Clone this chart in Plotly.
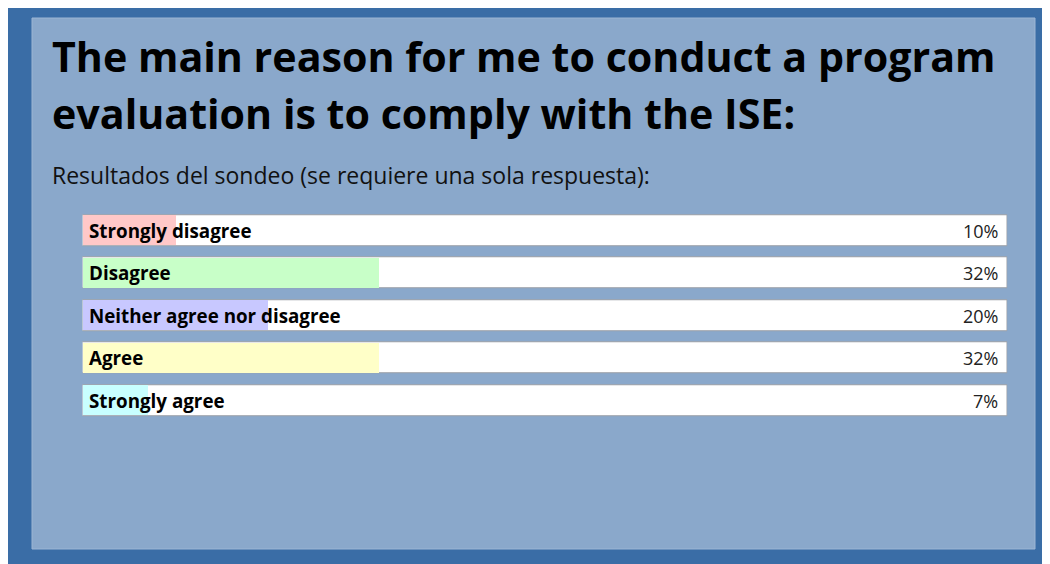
import plotly.graph_objects as go

categories = ["Strongly disagree", "Disagree", "Neither agree nor disagree", "Agree", "Strongly agree"]
values = [10, 32, 20, 32, 7]
pct_labels = ["10%", "32%", "20%", "32%", "7%"]
fill_colors = ["#ffc8c8", "#c8ffc8", "#c8c8ff", "#ffffc8", "#c8ffff"]
title_lines = ["The main reason for me to conduct a program", "evaluation is to comply with the ISE:"]
subtitle = "Resultados del sondeo (se requiere una sola respuesta):"

W, H = 1050, 564
OFF = 8  # page body margin
FONT = "Open Sans"


def px_x(p):
    return (p - OFF) / W


def px_y(p):
    return 1 - (p - OFF) / H


fig = go.Figure()
fig.add_trace(go.Bar(
    y=categories, x=[100] * len(categories), orientation="h",
    marker=dict(color="white", line=dict(color="#9a9ea6", width=1)),
    width=0.73, hoverinfo="skip", showlegend=False,
))
fig.add_trace(go.Bar(
    y=categories, x=values, orientation="h",
    marker=dict(color=fill_colors, line=dict(width=0)),
    width=0.71, showlegend=False,
))

annotations = []
for c, p in zip(categories, pct_labels):
    annotations.append(dict(x=0, y=c, xref="x", yref="y", text="<b>" + c + "</b>",
                            xanchor="left", yanchor="middle", xshift=4, showarrow=False,
                            font=dict(family=FONT, size=18.8, color="black")))
    annotations.append(dict(x=100, y=c, xref="x", yref="y", text=p,
                            xanchor="right", yanchor="middle", xshift=-8, showarrow=False,
                            font=dict(family=FONT, size=18, color="#222222")))

annotations.append(dict(x=px_x(50), y=px_y(86), xref="paper", yref="paper", text="<b>" + title_lines[0] + "</b>",
                        xanchor="left", yanchor="bottom", showarrow=False,
                        font=dict(family=FONT, size=41.2, color="black")))
annotations.append(dict(x=px_x(50), y=px_y(143), xref="paper", yref="paper", text="<b>" + title_lines[1] + "</b>",
                        xanchor="left", yanchor="bottom", showarrow=False,
                        font=dict(family=FONT, size=41.2, color="black")))
annotations.append(dict(x=px_x(50), y=px_y(175), xref="paper", yref="paper", text=subtitle,
                        xanchor="left", yanchor="middle", showarrow=False,
                        font=dict(family=FONT, size=23, color="#111111")))

shapes = [
    dict(type="rect", xref="paper", yref="paper", x0=px_x(32), x1=px_x(1035), y0=px_y(549), y1=px_y(18),
         fillcolor="#8aa8cb", line=dict(color="#9cb6d4", width=1), layer="below"),
]

fig.update_layout(
    width=W, height=H, margin=dict(l=0, r=0, t=0, b=0),
    paper_bgcolor="#3a6da6", plot_bgcolor="rgba(0,0,0,0)",
    barmode="overlay", bargap=0,
    xaxis=dict(range=[0, 100], domain=[px_x(82.5), px_x(1007.5)], visible=False, fixedrange=True),
    yaxis=dict(type="category", categoryarray=categories, range=[4.5, -0.5],
               domain=[px_y(421.75), px_y(209.25)], visible=False, fixedrange=True),
    annotations=annotations, shapes=shapes,
)

fig.write_html("out.html")
